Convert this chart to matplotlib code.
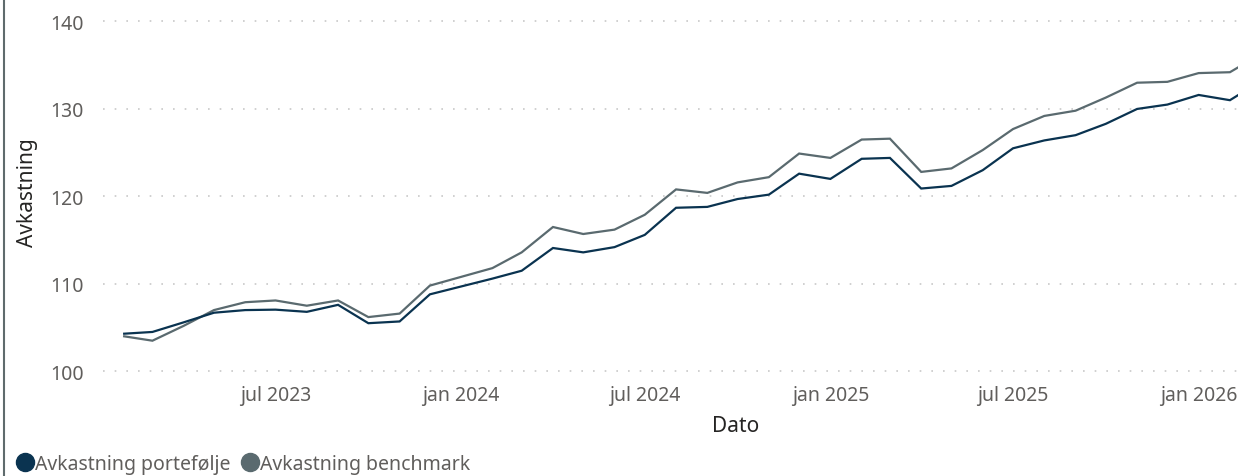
import matplotlib
matplotlib.use("Agg")
import matplotlib.pyplot as plt
from matplotlib.lines import Line2D
import pandas as pd

months = ["2023-02", "2023-03", "2023-04", "2023-05", "2023-06", "2023-07", "2023-08",
          "2023-09", "2023-10", "2023-11", "2023-12", "2024-01", "2024-02", "2024-03",
          "2024-04", "2024-05", "2024-06", "2024-07", "2024-08", "2024-09", "2024-10",
          "2024-11", "2024-12", "2025-01", "2025-02", "2025-03", "2025-04", "2025-05",
          "2025-06", "2025-07", "2025-08", "2025-09", "2025-10", "2025-11", "2025-12",
          "2026-01", "2026-02", "2026-03"]

portefolje = [104.3, 104.5, 105.6, 106.7, 107.0, 107.05, 106.8, 107.6, 105.5, 105.7,
              108.8, 109.7, 110.6, 111.5, 114.1, 113.6, 114.2, 115.6, 118.7, 118.8,
              119.7, 120.2, 122.6, 122.0, 124.3, 124.4, 120.9, 121.2, 123.0, 125.5,
              126.4, 127.0, 128.3, 130.0, 130.5, 131.6, 131.0, 133.0]

benchmark = [104.0, 103.5, 105.2, 107.0, 107.9, 108.1, 107.5, 108.1, 106.2, 106.6,
             109.8, 110.8, 111.8, 113.6, 116.5, 115.7, 116.2, 117.9, 120.8, 120.4,
             121.6, 122.2, 124.9, 124.4, 126.5, 126.6, 122.8, 123.2, 125.3, 127.7,
             129.2, 129.8, 131.3, 133.0, 133.1, 134.1, 134.2, 136.1]

tick_dates = ["2023-07-01", "2024-01-01", "2024-07-01", "2025-01-01", "2025-07-01", "2026-01-01"]
tick_labels = ["jul 2023", "jan 2024", "jul 2024", "jan 2025", "jul 2025", "jan 2026"]
y_ticks = [100, 110, 120, 130, 140]

series_names = ["Avkastning portefølje", "Avkastning benchmark"]
c_dark = "#0A3350"
c_gray = "#5A6A6F"
c_text = "#605E5C"

plt.rcParams['font.family'] = ['Noto Sans', 'DejaVu Sans']

dates = pd.to_datetime([m + "-01" for m in months])

fig = plt.figure(figsize=(12.38, 4.77), dpi=100)
W, H = 1238, 477
ax_left, ax_right, ax_top, ax_bottom = 103, 1238, 5, 380
ax = fig.add_axes([ax_left / W, 1 - ax_bottom / H, (ax_right - ax_left) / W, (ax_bottom - ax_top) / H])

ax.plot(dates, benchmark, color=c_gray, lw=1.6, solid_joinstyle='miter')
ax.plot(dates, portefolje, color=c_dark, lw=1.6, solid_joinstyle='miter')

ax.set_xlim(pd.Timestamp("2023-01-11"), pd.Timestamp("2026-02-09"))
ax.set_ylim(99.12, 142.0)

ax.set_yticks(y_ticks)
ax.set_xticks(pd.to_datetime(tick_dates))
ax.set_xticklabels(tick_labels)
ax.tick_params(axis='both', length=0, labelsize=14, labelcolor=c_text)
ax.tick_params(axis='y', pad=14)
ax.tick_params(axis='x', pad=4)
ax.yaxis.grid(True, color="#C8C8C8", linestyle=(0, (1, 6)), lw=1.2)
ax.set_axisbelow(True)
for s in ax.spines.values():
    s.set_visible(False)

ax.set_xlabel("Dato", fontsize=15, color="#252423")
ax.xaxis.set_label_coords((736 - ax_left) / (ax_right - ax_left), (ax_bottom - 427) / (ax_bottom - ax_top))
ax.xaxis.label.set_va('center')
ax.set_ylabel("Avkastning", fontsize=15, color="#252423")
ax.yaxis.set_label_coords((27 - ax_left) / (ax_right - ax_left), 0.5)
ax.yaxis.label.set_va('center')

# left border line
fig.add_artist(Line2D([3.5 / W, 3.5 / W], [0, 1], color="#5F6B6D", lw=1.5, transform=fig.transFigure))

handles = [Line2D([], [], marker='o', linestyle='', markersize=13, color=c_dark),
           Line2D([], [], marker='o', linestyle='', markersize=13, color=c_gray)]
leg = fig.legend(handles, series_names, loc='center left', bbox_to_anchor=(15 / W, 1 - 465 / H),
                 ncol=2, frameon=False, fontsize=14, handletextpad=0.03, columnspacing=0.5,
                 handlelength=1.0, borderaxespad=0, borderpad=0)
for t in leg.get_texts():
    t.set_color(c_text)

fig.savefig("out.png", dpi=100)
